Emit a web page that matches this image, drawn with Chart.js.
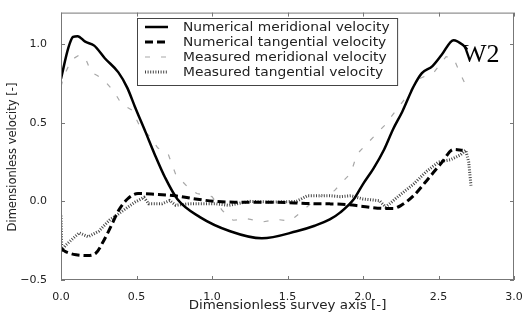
<!DOCTYPE html>
<html>
<head>
<meta charset="utf-8">
<script src="https://cdn.jsdelivr.net/npm/chart.js@4.4.1/dist/chart.umd.min.js"></script>
<style>
  body { margin: 0; background: #fff; }
  canvas { display: block; }
</style>
</head>
<body>
<canvas id="velChart" width="531" height="322"></canvas>
<script>
// values
const seriesNames = [
  'Numerical meridional velocity',
  'Numerical tangential velocity',
  'Measured meridional velocity',
  'Measured tangential velocity'
];

const numMeridX = [0.0, 0.05, 0.08, 0.11, 0.16, 0.22, 0.29, 0.38, 0.44, 0.49, 0.56, 0.62, 0.69, 0.77, 0.92, 1.12, 1.33, 1.56, 1.68, 1.78, 1.85, 1.94, 2.0, 2.07, 2.14, 2.2, 2.26, 2.335, 2.39, 2.46, 2.52, 2.6, 2.66, 2.69];
const numMeridY = [0.78, 0.98, 1.045, 1.05, 1.015, 0.99, 0.91, 0.82, 0.72, 0.60, 0.44, 0.30, 0.15, 0.015, -0.10, -0.19, -0.235, -0.19, -0.155, -0.115, -0.07, 0.015, 0.11, 0.21, 0.33, 0.46, 0.57, 0.73, 0.815, 0.86, 0.93, 1.025, 0.995, 0.965];

const numTangX = [0.0, 0.03, 0.10, 0.17, 0.23, 0.28, 0.34, 0.38, 0.44, 0.51, 0.62, 0.76, 0.89, 1.02, 1.15, 1.4, 1.67, 1.78, 1.89, 2.0, 2.14, 2.2, 2.25, 2.335, 2.42, 2.52, 2.6, 2.66];
const numTangY = [-0.30, -0.32, -0.34, -0.345, -0.33, -0.255, -0.14, -0.06, 0.015, 0.05, 0.045, 0.035, 0.015, 0.0, -0.005, -0.005, -0.015, -0.016, -0.02, -0.032, -0.045, -0.045, -0.027, 0.036, 0.13, 0.245, 0.33, 0.325];

const measMeridX = [0.0, 0.02, 0.07, 0.12, 0.16, 0.2, 0.24, 0.28, 0.35, 0.40, 0.47, 0.52, 0.59, 0.64, 0.71, 0.76, 0.80, 0.85, 0.90, 0.97, 1.0, 1.07, 1.14, 1.23, 1.34, 1.43, 1.51, 1.55, 1.60, 1.70, 1.78, 1.81, 1.87, 1.92, 1.96, 2.0, 2.07, 2.14, 2.22, 2.30, 2.36, 2.47, 2.55, 2.60, 2.645, 2.685];
const measMeridY = [0.73, 0.80, 0.90, 0.93, 0.915, 0.82, 0.80, 0.775, 0.70, 0.62, 0.58, 0.48, 0.41, 0.34, 0.30, 0.17, 0.13, 0.08, 0.05, 0.035, 0.03, -0.06, -0.12, -0.11, -0.13, -0.115, -0.125, -0.10, -0.06, 0.025, 0.06, 0.067, 0.13, 0.18, 0.30, 0.34, 0.41, 0.48, 0.58, 0.68, 0.775, 0.82, 0.92, 0.91, 0.81, 0.73];

const measTangX = [0.0, 0.005, 0.03, 0.12, 0.18, 0.25, 0.32, 0.38, 0.43, 0.49, 0.55, 0.58, 0.67, 0.72, 0.76, 0.85, 0.93, 1.02, 1.11, 1.25, 1.4, 1.56, 1.63, 1.72, 1.78, 1.85, 1.92, 2.0, 2.11, 2.15, 2.225, 2.335, 2.42, 2.5, 2.58, 2.645, 2.68, 2.70, 2.715];
const measTangY = [-0.09, -0.31, -0.28, -0.20, -0.225, -0.19, -0.12, -0.08, -0.045, -0.005, 0.025, -0.015, -0.015, 0.005, -0.025, -0.015, -0.015, -0.015, -0.025, 0.0, -0.005, 0.0, 0.035, 0.035, 0.036, 0.03, 0.036, 0.015, 0.004, -0.037, 0.025, 0.11, 0.19, 0.25, 0.265, 0.295, 0.325, 0.25, 0.10];

const xTicks = [0, 0.5, 1.0, 1.5, 2.0, 2.5, 3.0];
const yTicks = [-0.5, 0, 0.5, 1.0];
const xTitle = 'Dimensionless survey axis [-]';
const yTitle = 'Dimensionless velocity [-]';
const panelLabel = 'W2';

function toPoints(xs, ys) {
  return xs.map((x, i) => ({ x: x, y: ys[i] }));
}

const styles = [
  { color: '#000', width: 2.5, dash: [], smooth: true },
  { color: '#000', width: 3, dash: [8, 4], smooth: true },
  { color: '#a8a8a8', width: 1.2, dash: [5, 11], smooth: false },
  { color: '#444', width: 3, dash: [1, 1.6], smooth: false }
];

const allPoints = [
  toPoints(numMeridX, numMeridY),
  toPoints(numTangX, numTangY),
  toPoints(measMeridX, measMeridY),
  toPoints(measTangX, measTangY)
];

// frame, inner ticks, legend box, titles
const decorPlugin = {
  id: 'decor',
  afterDatasetsDraw(chart) {
    const ctx = chart.ctx;
    const a = chart.chartArea;
    const xs = chart.scales.x, ys = chart.scales.y;
    ctx.save();
    ctx.strokeStyle = '#777';
    ctx.lineWidth = 1;
    ctx.setLineDash([]);
    ctx.strokeRect(a.left + 0.5, a.top + 0.5, a.right - a.left - 1, a.bottom - a.top - 1);
    ctx.beginPath();
    xTicks.forEach(v => {
      const px = Math.round(xs.getPixelForValue(v)) + 0.5;
      ctx.moveTo(px, a.bottom); ctx.lineTo(px, a.bottom - 4);
      ctx.moveTo(px, a.top); ctx.lineTo(px, a.top + 4);
    });
    yTicks.forEach(v => {
      const py = Math.round(ys.getPixelForValue(v)) + 0.5;
      ctx.moveTo(a.left, py); ctx.lineTo(a.left + 4, py);
      ctx.moveTo(a.right, py); ctx.lineTo(a.right - 4, py);
    });
    ctx.stroke();

    // legend
    const boxL = 137.5, boxT = 18.5, rowH = 15, stretch = 1.15;
    ctx.font = '12px "DejaVu Sans"';
    let maxW = 0;
    seriesNames.forEach(n => { maxW = Math.max(maxW, ctx.measureText(n).width * stretch); });
    const textX = 183;
    const boxW = textX + maxW + 8 - boxL;
    const boxH = 67;
    ctx.fillStyle = '#fff';
    ctx.fillRect(boxL, boxT, boxW, boxH);
    ctx.strokeStyle = '#444';
    ctx.strokeRect(boxL, boxT, boxW, boxH);
    seriesNames.forEach((n, i) => {
      const y = boxT + 8.5 + i * rowH;
      const s = styles[i];
      ctx.strokeStyle = s.color;
      ctx.lineWidth = s.width;
      ctx.setLineDash(s.dash);
      ctx.beginPath();
      ctx.moveTo(145, y); ctx.lineTo(168, y);
      ctx.stroke();
      ctx.save();
      ctx.translate(textX, y);
      ctx.scale(stretch, 1);
      ctx.fillStyle = '#222';
      ctx.textBaseline = 'middle';
      ctx.fillText(n, 0, 1);
      ctx.restore();
    });
    ctx.setLineDash([]);

    // axis titles
    ctx.fillStyle = '#222';
    ctx.textAlign = 'center';
    ctx.textBaseline = 'middle';
    ctx.save();
    ctx.translate((a.left + a.right) / 2, 306);
    ctx.scale(1.12, 1);
    ctx.font = '12px "DejaVu Sans"';
    ctx.fillText(xTitle, 0, 0);
    ctx.restore();
    ctx.save();
    ctx.translate(13, 157);
    ctx.rotate(-Math.PI / 2);
    ctx.font = '11.5px "DejaVu Sans"';
    ctx.fillText(yTitle, 0, 0);
    ctx.restore();

    // panel label
    ctx.font = '26px "Liberation Serif"';
    ctx.textAlign = 'left';
    ctx.textBaseline = 'alphabetic';
    ctx.fillStyle = '#000';
    ctx.fillText(panelLabel, 462, 62);
    ctx.restore();
  }
};

const fmt = v => (v < 0 ? '\u2212' : '') + Math.abs(v).toFixed(1);

const ctx = document.getElementById('velChart').getContext('2d');
const chart = new Chart(ctx, {
  type: 'scatter',
  data: {
    datasets: allPoints.map((pts, i) => ({
      label: seriesNames[i],
      data: pts,
      showLine: true,
      borderColor: styles[i].color,
      borderWidth: styles[i].width,
      borderDash: styles[i].dash,
      cubicInterpolationMode: styles[i].smooth ? 'monotone' : 'default',
      tension: 0,
      pointRadius: 0,
      fill: false
    }))
  },
  options: {
    responsive: false,
    animation: false,
    layout: { padding: { top: 7, right: 17, left: 0, bottom: 0 } },
    plugins: { legend: { display: false }, tooltip: { enabled: false } },
    scales: {
      x: {
        type: 'linear',
        min: 0,
        max: 3,
        afterBuildTicks: s => { s.ticks = xTicks.map(v => ({ value: v })); },
        afterFit: s => { s.height = 42; },
        grid: { display: false },
        border: { display: false },
        ticks: { callback: fmt, color: '#222', padding: 3, maxRotation: 0, font: { family: 'DejaVu Sans', size: 11 } }
      },
      y: {
        type: 'linear',
        min: -0.5,
        max: 1.2,
        afterBuildTicks: s => { s.ticks = yTicks.map(v => ({ value: v })); },
        afterFit: s => { s.width = 61; },
        grid: { display: false },
        border: { display: false },
        ticks: { callback: fmt, color: '#222', padding: 6, font: { family: 'DejaVu Sans', size: 11 } }
      }
    }
  },
  plugins: [decorPlugin]
});
</script>
</body>
</html>
